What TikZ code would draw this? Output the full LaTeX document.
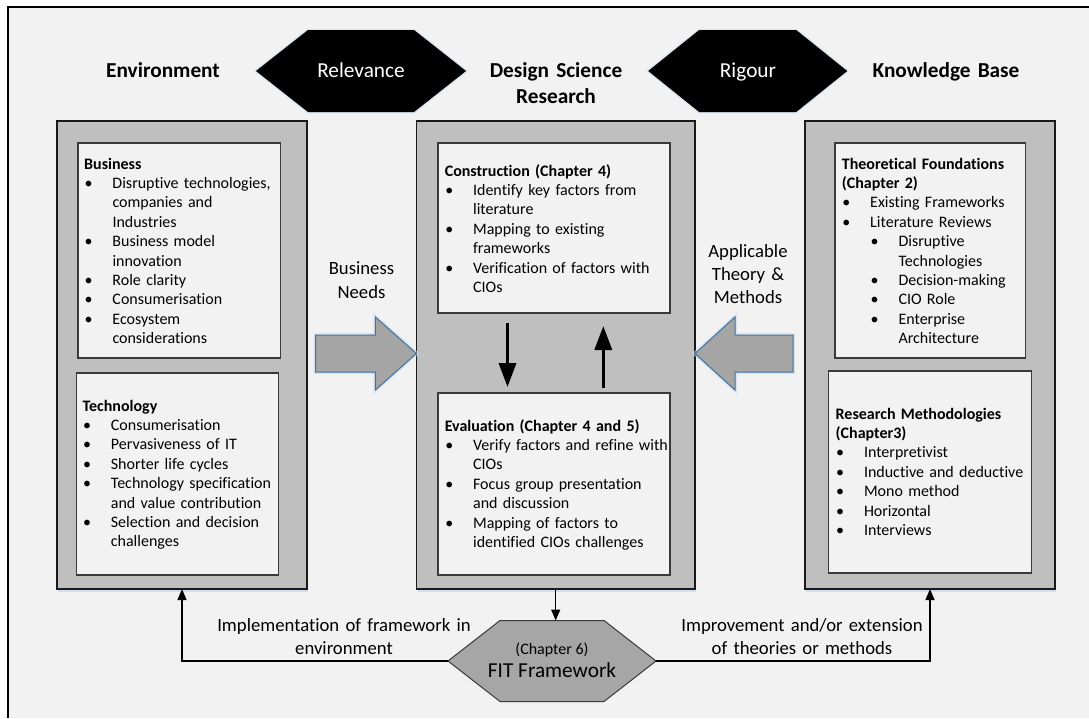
\documentclass[tikz,border=0pt]{standalone}
\usepackage{fontspec}
\setmainfont{Carlito}[Ligatures=NoCommon]
\usetikzlibrary{arrows.meta,calc,shadows}

\definecolor{bggray}{HTML}{F2F2F2}
\definecolor{panelgray}{HTML}{BFBFBF}
\definecolor{hexgray}{HTML}{A6A6A6}
\definecolor{arrowgray}{HTML}{A5A5A5}
\definecolor{arrowblue}{HTML}{41719C}
\definecolor{glowblue}{HTML}{C9D9EC}
\definecolor{inkdark}{HTML}{1A1A1A}
\definecolor{boxline}{HTML}{3A3A3A}

% list helpers: bullet column and continuation indent
\newcommand\bul{\makebox[28.3pt][l]{\hspace{0.5pt}\textbullet}}
\newcommand\ind{\hspace*{28.3pt}}

% hexagon outline built from a rectangular node's anchors
\newcommand\hexpath[2]{(#1.west) -- ($(#1.north west)+(#2,0)$) -- ($(#1.north east)+(-#2,0)$) -- (#1.east) -- ($(#1.south east)+(-#2,0)$) -- ($(#1.south west)+(#2,0)$) -- cycle}

\begin{document}
\begin{tikzpicture}[x=1pt,y=-1pt,
  panel/.style={draw=inkdark, line width=1.3pt, fill=panelgray, inner sep=0pt, outer sep=0pt,
    drop shadow={shadow xshift=1.2pt, shadow yshift=-2.5pt, fill=glowblue, opacity=0.8}},
  card/.style={draw=boxline, line width=1.3pt, fill=bggray, inner sep=0pt, outer sep=0pt},
  cardtext/.style={anchor=base west, inner sep=0pt, text width=240pt, align=left,
    font=\fontsize{16}{19.4}\selectfont},
  title/.style={anchor=base, inner sep=0pt, font=\fontsize{21.3}{26}\selectfont\bfseries,
    align=center, text width=220pt},
  hexframe/.style={inner sep=0pt, outer sep=0pt},
  hexlabel/.style={anchor=base, inner sep=0pt, font=\fontsize{21.3}{26}\selectfont},
  flowlabel/.style={anchor=base, inner sep=0pt, align=center, text width=300pt},
  blockarrow/.style={fill=arrowgray, draw=arrowblue, line width=1pt, line join=miter,
    preaction={draw=glowblue, line width=4pt, opacity=0.6}},
  bigarrow/.style={line width=3.5pt, -{Triangle[length=24pt,width=17pt]}},
  feedback/.style={line width=1.5pt, -{Triangle[length=11pt,width=9pt]}}
]
\useasboundingbox (0,0) rectangle (1089,718);

% page background and frame
\fill[white] (0,0) rectangle (1089,718);
\fill[bggray] (8,7) rectangle (1089,718);
\draw[line width=1.5pt, black] (8,718) -- (8,7) -- (1089,7);

% column headings
\node[title] (envT) at (163,77) {Environment};
\node[title] (dsrT) at (556,77) {Design Science\\Research};
\node[title] (kbT) at (946,77) {Knowledge Base};

% relevance and rigour hexagons
\node[hexframe, minimum width=210pt, minimum height=82pt] (rel) at (361,71) {};
\fill[black, preaction={draw=glowblue, line width=2.5pt, opacity=0.6}] \hexpath{rel}{52};
\node[hexlabel, text=white] (relT) at (361,77.5) {Relevance};
\node[hexframe, minimum width=199pt, minimum height=82pt] (rig) at (747.7,71) {};
\fill[black, preaction={draw=glowblue, line width=2.5pt, opacity=0.6}] \hexpath{rig}{51};
\node[hexlabel, text=white] (rigT) at (748,77) {Rigour};

% the three panels
\node[panel, minimum width=250pt, minimum height=468pt] (env) at (182,355) {};
\node[panel, minimum width=278.6pt, minimum height=468pt] (dsr) at (555.7,355) {};
\node[panel, minimum width=250pt, minimum height=468pt] (kb) at (930,355) {};

% cards inside the panels
\node[card, minimum width=202.5pt, minimum height=215pt] (bus) at (179.25,250.5) {};
\node[card, minimum width=202pt, minimum height=202pt] (tech) at (177.5,474) {};
\node[card, minimum width=232pt, minimum height=170pt] (con) at (554,228) {};
\node[card, minimum width=232pt, minimum height=182pt] (eva) at (554,484) {};
\node[card, minimum width=190.6pt, minimum height=215pt] (theo) at (930.3,250.5) {};
\node[card, minimum width=202.7pt, minimum height=202pt] (rm) at (930.15,472) {};

\node[cardtext] (busT) at (84,169) {\textbf{Business}\\
\bul Disruptive technologies,\\
\ind companies and\\
\ind Industries\\
\bul Business model\\
\ind innovation\\
\bul Role clarity\\
\bul Consumerisation\\
\bul Ecosystem\\
\ind considerations};

\node[cardtext] (techT) at (82.4,411) {\textbf{Technology}\\
\bul Consumerisation\\
\bul Pervasiveness of IT\\
\bul Shorter life cycles\\
\bul Technology specification\\
\ind and value contribution\\
\bul Selection and decision\\
\ind challenges};

\node[cardtext] (conT) at (444.6,176) {\textbf{Construction (Chapter 4)}\\
\bul Identify key factors from\\
\ind literature\\
\bul Mapping to existing\\
\ind frameworks\\
\bul Verification of factors with\\
\ind CIOs};

\node[cardtext] (evaT) at (444.6,431) {\textbf{Evaluation (Chapter 4 and 5)}\\
\bul Verify factors and refine with\\
\ind CIOs\\
\bul Focus group presentation\\
\ind and discussion\\
\bul Mapping of factors to\\
\ind identified CIOs challenges};

\node[cardtext] (theoT) at (841.7,169) {\textbf{Theoretical Foundations}\\
\textbf{(Chapter 2)}\\
\bul Existing Frameworks\\
\bul Literature Reviews\\
\ind\bul Disruptive\\
\ind\ind Technologies\\
\ind\bul Decision-making\\
\ind\bul CIO Role\\
\ind\bul Enterprise\\
\ind\ind Architecture};

\node[cardtext] (rmT) at (835.5,419) {\textbf{Research Methodologies}\\
\textbf{(Chapter3)}\\
\bul Interpretivist\\
\bul Inductive and deductive\\
\bul Mono method\\
\bul Horizontal\\
\bul Interviews};

% construction <-> evaluation cycle
\draw[bigarrow] ($(con.south)+(-46.5,10)$) -- ($(eva.north)+(-46.5,-6)$);
\draw[bigarrow] ($(eva.north)+(49.3,-5)$) -- ($(con.south)+(49.3,13)$);

% relevance and rigour cycles into the research panel
\node[flowlabel, text width=100pt, font=\fontsize{18.7}{24}\selectfont] (needsT) at (361.5,274.3) {Business\\Needs};
\draw[blockarrow] ($(dsr.west)+(0,-1.5)$) coordinate (tipL)
  -- ++(-41,-36.5) -- ++(0,18) -- ++(-59.8,0) -- ++(0,37) -- ++(59.8,0) -- ++(0,18) -- cycle;
\node[flowlabel, text width=110pt, font=\fontsize{18.7}{23}\selectfont] (theoryT) at (748,257.5) {Applicable\\Theory \&\\Methods};
\draw[blockarrow] ($(dsr.east)+(0,-1.5)$) coordinate (tipR)
  -- ++(40,-36.5) -- ++(0,18) -- ++(58,0) -- ++(0,37) -- ++(-58,0) -- ++(0,18) -- cycle;

% FIT framework outcome
\node[hexframe, minimum width=208pt, minimum height=81pt] (fit) at (552,661) {};
\fill[hexgray, draw=boxline, line width=1pt] \hexpath{fit}{52};
\node[anchor=base, inner sep=0pt, font=\fontsize{16}{19}\selectfont] (fitSub) at (552,654) {(Chapter 6)};
\node[anchor=base, inner sep=0pt, font=\fontsize{21.3}{26}\selectfont] (fitName) at (552,677.3) {FIT Framework};

\draw[feedback] (dsr.south) -- (dsr.south |- fit.north);
\draw[feedback] (fit.west) -| (env.south);
\draw[feedback] (fit.east) -| (kb.south);

\node[flowlabel, font=\fontsize{18.7}{22.5}\selectfont] (implT) at (344,631.7) {Implementation of framework in\\environment};
\node[flowlabel, font=\fontsize{18.7}{22.5}\selectfont] (imprT) at (802,631.7) {Improvement and/or extension\\of theories or methods};
\end{tikzpicture}
\end{document}
